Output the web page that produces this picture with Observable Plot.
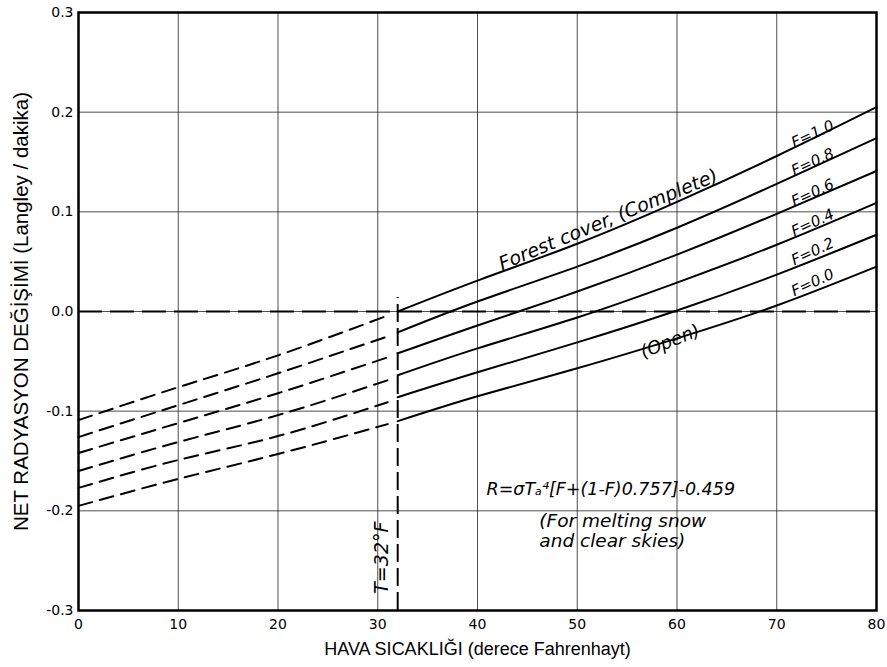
<!DOCTYPE html>
<html>
<head>
<meta charset="utf-8">
<script src="https://cdn.jsdelivr.net/npm/d3@7"></script>
<script src="https://cdn.jsdelivr.net/npm/@observablehq/plot@0.6"></script>
<style>
  body { margin: 0; background: white; }
</style>
</head>
<body>
<div id="chart"></div>
<script>
// ---- data ----
const fValues = ["1.0", "0.8", "0.6", "0.4", "0.2", "0.0"];

// solid part (T >= 32°F)
const solidX = [32, 40, 50, 60, 70, 80];
const solidF10 = [0.000, 0.031, 0.068, 0.110, 0.156, 0.205];
const solidF08 = [-0.021, 0.010, 0.045, 0.084, 0.128, 0.174];
const solidF06 = [-0.042, -0.014, 0.020, 0.057, 0.098, 0.141];
const solidF04 = [-0.064, -0.037, -0.006, 0.029, 0.067, 0.109];
const solidF02 = [-0.086, -0.061, -0.031, 0.001, 0.037, 0.077];
const solidF00 = [-0.110, -0.085, -0.057, -0.027, 0.006, 0.045];

// dashed part (T < 32°F)
const dashX = [0, 10, 20, 31];
const dashF10 = [-0.109, -0.076, -0.044, -0.004];
const dashF08 = [-0.126, -0.094, -0.062, -0.025];
const dashF06 = [-0.142, -0.112, -0.082, -0.046];
const dashF04 = [-0.160, -0.131, -0.104, -0.069];
const dashF02 = [-0.177, -0.149, -0.125, -0.091];
const dashF00 = [-0.195, -0.168, -0.143, -0.113];

// curve label positions
const labelX = [73.6, 73.6, 73.6, 73.6, 73.6, 73.6];
const labelY = [0.178, 0.150, 0.119, 0.089, 0.060, 0.029];

const xTicks = [0, 10, 20, 30, 40, 50, 60, 70, 80];
const yTicks = [-0.3, -0.2, -0.1, 0.0, 0.1, 0.2, 0.3];

const freezeT = 32;
const freezeTop = 0.014;

const xLabel = "HAVA SICAKLIĞI (derece Fahrenhayt)";
const yLabel = "NET RADYASYON DEĞİŞİMİ (Langley / dakika)";

// ---- build tables ----
const solidSeries = [solidF10, solidF08, solidF06, solidF04, solidF02, solidF00];
const dashSeries = [dashF10, dashF08, dashF06, dashF04, dashF02, dashF00];
const solid = solidSeries.flatMap((ys, i) => ys.map((y, j) => ({x: solidX[j], y, f: fValues[i]})));
const dashed = dashSeries.flatMap((ys, i) => ys.map((y, j) => ({x: dashX[j], y, f: fValues[i]})));
const fLabels = fValues.map((f, i) => ({x: labelX[i], y: labelY[i], t: "F=" + f}));

const handFont = "DejaVu Sans";

const chart = Plot.plot({
  width: 887,
  height: 667,
  marginLeft: 78,
  marginRight: 11,
  marginTop: 12,
  marginBottom: 57,
  style: {fontFamily: "DejaVu Sans", fontSize: "14px", color: "black", background: "white"},
  x: {domain: [0, 80], ticks: xTicks, label: null},
  y: {domain: [-0.3, 0.3], ticks: yTicks, label: null, tickFormat: d => d.toFixed(1)},
  marks: [
    Plot.gridX(xTicks, {stroke: "#222", strokeOpacity: 0.8, strokeWidth: 1}),
    Plot.gridY(yTicks, {stroke: "#222", strokeOpacity: 0.8, strokeWidth: 1}),
    Plot.axisX({ticks: xTicks, tickSize: 0, tickPadding: 9, label: null}),
    Plot.axisY({ticks: yTicks, tickSize: 0, tickPadding: 5, label: null, tickFormat: d => d.toFixed(1)}),
    // zero reference dashed line
    Plot.ruleY([0], {stroke: "black", strokeWidth: 2, strokeDasharray: "24,8"}),
    // T = 32°F dashed line
    Plot.ruleX([freezeT], {y1: -0.3, y2: freezeTop, stroke: "black", strokeWidth: 2, strokeDasharray: "18,6"}),
    Plot.line(dashed, {x: "x", y: "y", z: "f", curve: "natural", stroke: "black", strokeWidth: 2, strokeDasharray: "14,8"}),
    Plot.line(solid, {x: "x", y: "y", z: "f", curve: "natural", stroke: "black", strokeWidth: 2}),
    Plot.frame({stroke: "black", strokeWidth: 2.5}),
    Plot.text(fLabels, {x: "x", y: "y", text: "t", rotate: -25, fontSize: 15, fontStyle: "italic", fontFamily: handFont, fill: "black"}),
    Plot.text(["Forest cover, (Complete)"], {x: [53.1], y: [0.092], rotate: -22.5, fontSize: 19, fontStyle: "italic", fontFamily: handFont, fill: "black"}),
    Plot.text(["(Open)"], {x: [59.3], y: [-0.030], rotate: -22, fontSize: 18, fontStyle: "italic", fontFamily: handFont, fill: "black"}),
    Plot.text(["R=σTₐ⁴[F+(1-F)0.757]-0.459"], {x: [40.9], y: [-0.178], textAnchor: "start", fontSize: 17.5, fontStyle: "italic", fontFamily: handFont, fill: "black"}),
    Plot.text(["(For melting snow"], {x: [46.2], y: [-0.2105], textAnchor: "start", fontSize: 18.5, fontStyle: "italic", fontFamily: handFont, fill: "black"}),
    Plot.text(["and clear skies)"], {x: [46.2], y: [-0.2305], textAnchor: "start", fontSize: 18.5, fontStyle: "italic", fontFamily: handFont, fill: "black"}),
    Plot.text(["T=32°F"], {x: [30.4], y: [-0.247], rotate: -90, fontSize: 19, fontStyle: "italic", fontFamily: handFont, fill: "black"}),
    Plot.text([xLabel], {frameAnchor: "bottom", dy: 44, textAnchor: "middle", fontSize: 18, fontFamily: "Liberation Sans", fill: "black"}),
    Plot.text([yLabel], {frameAnchor: "left", dx: -57, textAnchor: "middle", lineAnchor: "middle", rotate: -90, fontSize: 20.5, fontFamily: "Liberation Sans", fill: "black"})
  ]
});
document.getElementById("chart").appendChild(chart);
</script>
</body>
</html>
